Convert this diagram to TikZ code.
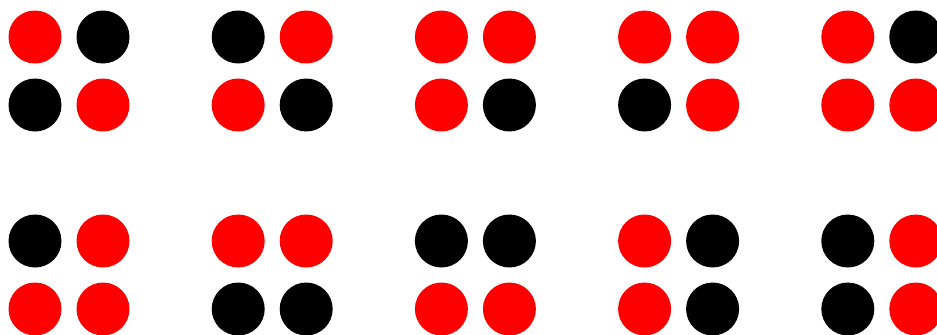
\documentclass[tikz,border=0pt]{standalone}
\begin{document}
\begin{tikzpicture}[x=0.03cm, y=-0.03cm,
    dot/.style={fill=#1}]
    % picture frame (pixel grid of the reference)
    \useasboundingbox (0,0) rectangle (937,334);
    % groups of four dots: column, row, then colours TL, TR, BL, BR
    \foreach \col/\row/\ca/\cb/\cc/\cd in {
        0/0/red/black/black/red,
        1/0/black/red/red/black,
        2/0/red/red/red/black,
        3/0/red/red/black/red,
        4/0/red/black/red/red,
        0/1/black/red/red/red,
        1/1/red/red/black/black,
        2/1/black/black/red/red,
        3/1/red/black/red/black,
        4/1/black/red/black/red} {
        \begin{scope}[shift={(35+203.2*\col, 37+204*\row)}]
            \fill[dot=\ca] (0,0) circle (26.5);
            \fill[dot=\cb] (68,0) circle (26.5);
            \fill[dot=\cc] (0,68) circle (26.5);
            \fill[dot=\cd] (68,68) circle (26.5);
        \end{scope}
    }
\end{tikzpicture}
\end{document}
